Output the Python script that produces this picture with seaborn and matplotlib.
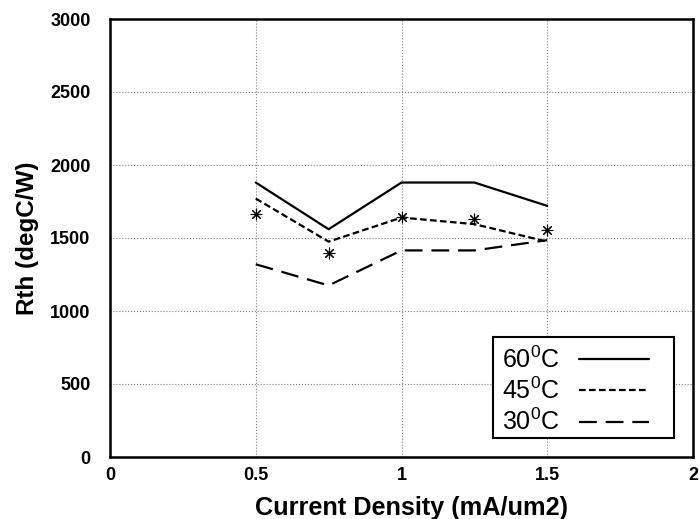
import numpy as np
import pandas as pd
import matplotlib
matplotlib.use("Agg")
import matplotlib.pyplot as plt
from matplotlib.patches import Rectangle
import seaborn as sns

# ----------------------------------------------------------
# data
# ----------------------------------------------------------
current = [0.5, 0.75, 1.0, 1.25, 1.5]
rth_60 = [1880, 1560, 1880, 1880, 1720]
rth_45 = [1770, 1475, 1640, 1595, 1475]
rth_30 = [1320, 1175, 1415, 1415, 1485]
star_x = [0.5, 0.75, 1.0, 1.25, 1.5]
star_y = [1665, 1400, 1642, 1630, 1553]
series_names = ["60$^{0}$C", "45$^{0}$C", "30$^{0}$C"]

# ----------------------------------------------------------
# main
# ----------------------------------------------------------
sns.set_style("white")
plt.rcParams['font.family'] = ['Liberation Sans', 'DejaVu Sans']
plt.rcParams['mathtext.fontset'] = 'custom'
plt.rcParams['mathtext.rm'] = 'Liberation Sans'
for key in ['text.color', 'axes.labelcolor', 'xtick.color', 'ytick.color']:
    plt.rcParams[key] = 'black'

df = pd.DataFrame({
    'x': current * 3,
    'y': rth_60 + rth_45 + rth_30,
    'temp': [series_names[0]] * 5 + [series_names[1]] * 5 + [series_names[2]] * 5,
})

fig = plt.figure(figsize=(6.99, 5.19), dpi=100)
ax = fig.add_axes([110 / 699, 62 / 519, 583 / 699, 438 / 519])

dash_map = {series_names[0]: '', series_names[1]: (3, 1.5), series_names[2]: (8, 4)}
sns.lineplot(data=df, x='x', y='y', hue='temp', style='temp', dashes=dash_map,
             palette=['black'] * 3, linewidth=1.6, ax=ax, legend=True)
sns.scatterplot(x=star_x, y=star_y, marker=(8, 2, 0), s=60, color='black',
                linewidth=0.8, ax=ax, legend=False)

ax.set_xlim(0, 2)
ax.set_ylim(0, 3000)
ax.set_xticks([0, 0.5, 1, 1.5, 2])
ax.set_xticklabels(['0', '0.5', '1', '1.5', '2'])
ax.set_yticks(np.arange(0, 3001, 500))
ax.tick_params(axis='x', length=0, labelsize=13, pad=7)
ax.tick_params(axis='y', length=0, labelsize=13, pad=14)
for lab in ax.get_xticklabels() + ax.get_yticklabels():
    lab.set_fontweight('bold')
ax.grid(True, ls=':', color='gray', lw=0.8)
for sp in ax.spines.values():
    sp.set_linewidth(1.8)
    sp.set_color('black')

ax.set_xlabel('Current Density (mA/um2)', fontsize=18.2, fontweight='bold')
ax.xaxis.set_label_coords(0.517, -0.088)
ax.set_ylabel('Rth (degC/W)', fontsize=17.5, fontweight='bold', labelpad=8)

# legend box drawn by hand (white, covers the grid)
box = Rectangle((0.657, 0.043), 0.31, 0.231, transform=ax.transAxes,
                facecolor='white', edgecolor='black', lw=1.5, zorder=4)
ax.add_patch(box)

handles, labels = ax.get_legend_handles_labels()
leg = ax.legend(handles, labels, loc='upper left', bbox_to_anchor=(0.672, 0.253),
                markerfirst=False, fontsize=18, frameon=False,
                handlelength=2.8, labelspacing=0.2, borderpad=0,
                borderaxespad=0, handletextpad=0.8, title=None)
leg.set_zorder(5)

plt.savefig('out.png', dpi=100)
